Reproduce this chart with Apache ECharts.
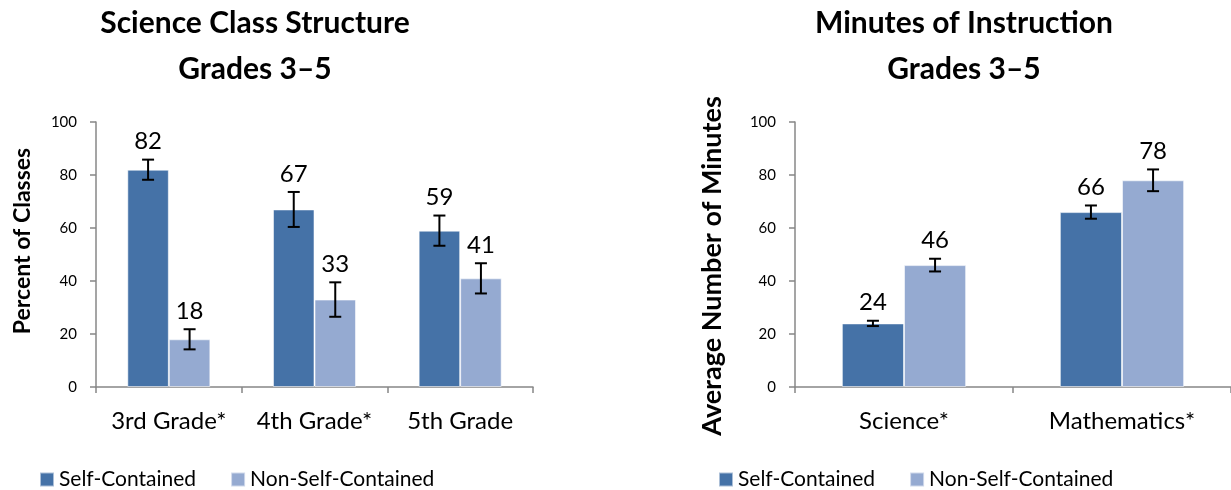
<!DOCTYPE html>
<html>
<head>
<meta charset="utf-8">
<script src="https://cdn.jsdelivr.net/npm/echarts@6/dist/echarts.min.js"></script>
<style>
html,body{margin:0;padding:0;background:#fff;}
#chart{width:1231px;height:490px;}
</style>
</head>
<body>
<div id="chart"></div>
<script>
// ---- Data ----
const classCategories = ['3rd Grade*', '4th Grade*', '5th Grade'];
const classSelf = [82, 67, 59];
const classNonSelf = [18, 33, 41];
const classSelfErr = [3.8, 6.6, 5.7];
const classNonSelfErr = [3.8, 6.5, 5.7];

const minuteCategories = ['Science*', 'Mathematics*'];
const minuteSelf = [24, 66];
const minuteNonSelf = [46, 78];
const minuteSelfErr = [1.0, 2.5];
const minuteNonSelfErr = [2.4, 4.1];

const yTicks = [0, 20, 40, 60, 80, 100];
const seriesNames = ['Self-Contained', 'Non-Self-Contained'];
const titles = ['Science Class Structure\nGrades 3\u20135', 'Minutes of Instruction\nGrades 3\u20135'];
const yTitles = ['Percent of Classes', 'Average Number of Minutes'];

// ---- Style ----
const FONT = 'Lato, "Open Sans", sans-serif';
const DARK = '#4572A7';
const LIGHT = '#95AAD1';
const AXIS = '#878787';
const GAP = 0.43;

function errorSeries(name, gridIdx, values, errs, side) {
  return {
    type: 'custom',
    name: name + ' error',
    xAxisIndex: gridIdx, yAxisIndex: gridIdx,
    silent: true,
    z: 5,
    encode: { x: 0, y: 1 },
    data: values.map((v, i) => [i, v, errs[i]]),
    renderItem: function (params, api) {
      const i = api.value(0), v = api.value(1), e = api.value(2);
      const catW = api.size([1, 0])[0];
      const bw = catW * (1 - GAP) / 2;
      const off = side * bw / 2;
      const top = api.coord([i, v + e]);
      const bot = api.coord([i, v - e]);
      const x = top[0] + off;
      const cap = 6;
      const ls = { stroke: '#000', lineWidth: 2 };
      return {
        type: 'group',
        children: [
          { type: 'line', shape: { x1: x, y1: top[1], x2: x, y2: bot[1] }, style: ls },
          { type: 'line', shape: { x1: x - cap, y1: top[1], x2: x + cap, y2: top[1] }, style: ls },
          { type: 'line', shape: { x1: x - cap, y1: bot[1], x2: x + cap, y2: bot[1] }, style: ls },
          { type: 'text', style: { text: String(v), x: x, y: top[1] - 6, textAlign: 'center', textVerticalAlign: 'bottom',
              fontSize: 24, fontFamily: FONT, fill: '#000' } }
        ]
      };
    }
  };
}

function barSeries(name, gridIdx, values, color) {
  return {
    type: 'bar', name: name,
    xAxisIndex: gridIdx, yAxisIndex: gridIdx,
    data: values,
    barGap: '0%', barCategoryGap: (GAP * 100) + '%',
    itemStyle: { color: color, borderColor: 'rgba(255,255,255,0.55)', borderWidth: 1 },
    emphasis: { disabled: true }
  };
}

function xAxis(gridIdx, cats) {
  return {
    type: 'category', gridIndex: gridIdx, data: cats,
    axisLine: { lineStyle: { color: AXIS, width: 1.5 } },
    axisTick: { show: true, length: 6, lineStyle: { color: AXIS, width: 1.5 }, alignWithLabel: false },
    axisLabel: { color: '#000', fontSize: 24, fontFamily: FONT, margin: 22, interval: 0, hideOverlap: false }
  };
}

function yAxis(gridIdx) {
  return {
    type: 'value', gridIndex: gridIdx, min: 0, max: 100, interval: 20,
    axisLine: { show: true, lineStyle: { color: AXIS, width: 1.5 } },
    axisTick: { show: true, length: 6, lineStyle: { color: AXIS, width: 1.5 } },
    splitLine: { show: false },
    axisLabel: { color: '#000', fontSize: 15, fontFamily: FONT, margin: 19,
      formatter: v => yTicks.includes(v) ? String(v) : '' }
  };
}

function titleText(text, cx) {
  return { type: 'text', x: cx, y: 0, silent: true,
    style: { text: text, textAlign: 'center', fontSize: 30, fontWeight: 'bold', fontFamily: FONT, lineHeight: 46, fill: '#000' } };
}

function yTitleText(text, cx, cy, size) {
  return { type: 'text', x: cx, y: cy, rotation: Math.PI / 2, silent: true,
    style: { text: text, textAlign: 'center', textVerticalAlign: 'middle', fontSize: size, fontWeight: 'bold', fontFamily: FONT, fill: '#000' } };
}

function legend(left) {
  return { left: left, top: 469, padding: 0, itemWidth: 14, itemHeight: 14, itemGap: 34, icon: 'rect',
    data: seriesNames, selectedMode: false,
    textStyle: { fontSize: 21, fontFamily: FONT, color: '#000' } };
}

const option = {
  animation: false,
  backgroundColor: '#fff',
  graphic: [
    titleText(titles[0], 255),
    titleText(titles[1], 964),
    yTitleText(yTitles[0], 22.5, 241, 23),
    yTitleText(yTitles[1], 712.5, 266, 27)
  ],
  legend: [legend(39), legend(718)],
  grid: [
    { left: 96, top: 122, width: 437, height: 265 },
    { left: 795, top: 122, width: 436, height: 265 }
  ],
  xAxis: [xAxis(0, classCategories), xAxis(1, minuteCategories)],
  yAxis: [yAxis(0), yAxis(1)],
  series: [
    barSeries(seriesNames[0], 0, classSelf, DARK),
    barSeries(seriesNames[1], 0, classNonSelf, LIGHT),
    barSeries(seriesNames[0], 1, minuteSelf, DARK),
    barSeries(seriesNames[1], 1, minuteNonSelf, LIGHT),
    errorSeries(seriesNames[0], 0, classSelf, classSelfErr, -1),
    errorSeries(seriesNames[1], 0, classNonSelf, classNonSelfErr, 1),
    errorSeries(seriesNames[0], 1, minuteSelf, minuteSelfErr, -1),
    errorSeries(seriesNames[1], 1, minuteNonSelf, minuteNonSelfErr, 1)
  ]
};

const chart = echarts.init(document.getElementById('chart'), null, { renderer: 'canvas' });
chart.setOption(option);
</script>
</body>
</html>
